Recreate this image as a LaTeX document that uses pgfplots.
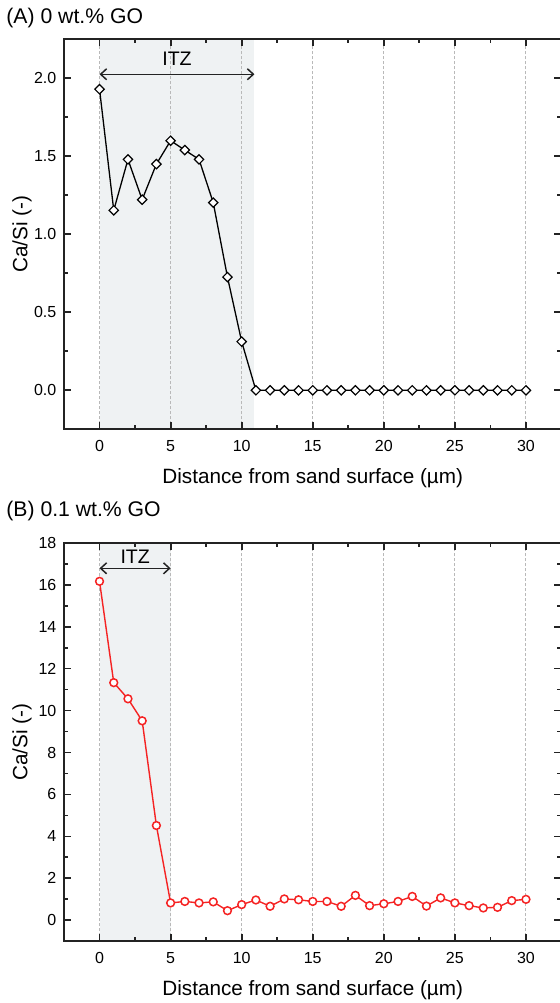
\documentclass[border=0pt]{standalone}
\usepackage{pgfplots}
\pgfplotsset{compat=1.18}
\usepackage{fontspec}
\setmainfont{Liberation Sans}
\usetikzlibrary{arrows.meta}
\definecolor{itz}{RGB}{239,242,243}
\definecolor{spine}{RGB}{35,35,35}
\definecolor{gridc}{RGB}{185,185,185}
\definecolor{redc}{RGB}{245,35,35}

\tikzset{itzarrow/.style={{Straight Barb[length=3pt,width=5.5pt]}-{Straight Barb[length=3pt,width=5.5pt]}, spine, line width=0.75pt}}

\pgfplotsset{
  common/.style={
    scale only axis, width=248.75pt,
    xmin=-2.5, xmax=32.5,
    xtick={0,5,...,30}, minor x tick num=1,
    tick align=inside,
    major tick length=3.5pt, minor tick length=2pt,
    tick style={spine, line width=0.9pt},
    axis line style={spine, line width=1pt},
    xmajorgrids,
    major x grid style={gridc, line width=0.5pt, dash pattern=on 1.5pt off 1pt},
    /pgf/number format/assume math mode=true,
    ticklabel style={font=\fontsize{8}{9.6}\selectfont},
    xticklabel style={anchor=base, yshift=-11.15pt, inner sep=0pt},
    yticklabel style={anchor=east, xshift=-3.65pt, inner sep=0pt},
    label style={font=\fontsize{10.35}{12}\selectfont},
    xlabel={Distance from sand surface (µm)},
    ylabel={Ca/Si (-)},
    xlabel style={at={(axis description cs:0.5,0)}, anchor=base, yshift=-26.85pt, inner sep=0pt},
    ylabel style={at={(axis description cs:-0.0844,0.5)}, anchor=center, inner sep=0pt},
    set layers,
  },
}

\pgfplotstableread{
x y
0 1.93
1 1.154
2 1.48
3 1.222
4 1.45
5 1.60
6 1.54
7 1.48
8 1.203
9 0.726
10 0.312
11 0
12 0
13 0
14 0
15 0
16 0
17 0
18 0
19 0
20 0
21 0
22 0
23 0
24 0
25 0
26 0
27 0
28 0
29 0
30 0
}\dataA

\pgfplotstableread{
x y
0 16.16
1 11.33
2 10.56
3 9.51
4 4.52
5 0.83
6 0.90
7 0.83
8 0.88
9 0.46
10 0.75
11 0.97
12 0.67
13 1.02
14 0.98
15 0.90
16 0.90
17 0.67
18 1.19
19 0.70
20 0.79
21 0.90
22 1.14
23 0.68
24 1.07
25 0.83
26 0.70
27 0.59
28 0.62
29 0.94
30 1.00
}\dataB

\begin{document}
\begin{tikzpicture}
\node[anchor=base west, font=\fontsize{10.6}{12}\selectfont, inner sep=0pt] at (3pt,-11.65pt) {(A) 0 wt.\% GO};
\node[anchor=base west, font=\fontsize{10.6}{12}\selectfont, inner sep=0pt] at (3pt,-258.35pt) {(B) 0.1 wt.\% GO};

\begin{axis}[common,
  at={(32pt,-214.65pt)}, anchor=south west,
  height=195pt,
  ymin=-0.25, ymax=2.25,
  ytick={0,0.5,...,2}, minor y tick num=1,
  yticklabel style={/pgf/number format/.cd, fixed, fixed zerofill, precision=1},
]
\addplot[fill=itz, draw=none, on layer=axis background, forget plot]
  coordinates {(0,-0.25) (10.9,-0.25) (10.9,2.25) (0,2.25)} -- cycle;
\addplot[black, line width=0.65pt, mark=square*, mark size=1.65pt,
  mark options={fill=white, rotate=45, line width=0.6pt}] table[x=x,y=y] {\dataA};
\draw[itzarrow] (axis cs:0,2.026) -- (axis cs:10.9,2.026);
\node[anchor=base, font=\fontsize{9.8}{11}\selectfont, inner sep=0pt] at (axis cs:5.45,2.079) {ITZ};
\end{axis}

\begin{axis}[common,
  at={(32pt,-470.65pt)}, anchor=south west,
  height=199.3pt,
  ymin=-1, ymax=18,
  ytick={0,2,...,18}, minor y tick num=1,
]
\addplot[fill=itz, draw=none, on layer=axis background, forget plot]
  coordinates {(0,-1) (5,-1) (5,18) (0,18)} -- cycle;
\addplot[redc, line width=0.7pt, mark=*, mark size=1.95pt,
  mark options={fill=white, line width=0.75pt}] table[x=x,y=y] {\dataB};
\draw[itzarrow] (axis cs:0,16.78) -- (axis cs:5,16.78);
\node[anchor=base, font=\fontsize{9.8}{11}\selectfont, inner sep=0pt] at (axis cs:2.51,17.0) {ITZ};
\end{axis}

\pgfresetboundingbox
\path[use as bounding box] (0,0) rectangle (280pt,-501.5pt);
\end{tikzpicture}
\end{document}
